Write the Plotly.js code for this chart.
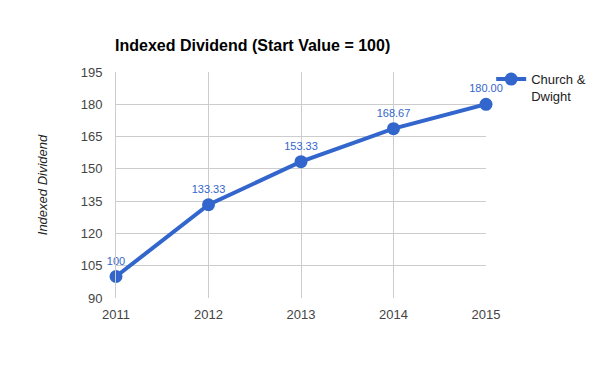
<!DOCTYPE html>
<html><head><meta charset="utf-8">
<script src="https://cdn.plot.ly/plotly-3.0.1.min.js"></script>
<style>html,body{margin:0;padding:0;background:#fff}#c{width:600px;height:371px}</style>
</head><body><div id="c"></div>
<script>
const years = ['2011','2012','2013','2014','2015'];
const values = [100, 133.33, 153.33, 168.67, 180.00];
const valueLabels = ['100','133.33','153.33','168.67','180.00'];
const seriesName = 'Church &<br>Dwight';
const yTicks = [90,105,120,135,150,165,180,195];

const trace = {
  x: years.map(Number), y: values, name: seriesName,
  type: 'scatter', mode: 'lines+markers+text',
  text: valueLabels, textposition: 'top center',
  textfont: {family: 'Liberation Sans, Arial', size: 11, color: '#3366cc'},
  line: {color: '#3366cc', width: 4},
  marker: {color: '#3366cc', size: 13},
  cliponaxis: false
};
const layout = {
  width: 600, height: 371,
  margin: {l: 116, r: 114, t: 72, b: 73, autoexpand: false},
  paper_bgcolor: '#fff', plot_bgcolor: '#fff',
  font: {family: 'Liberation Sans, Arial', size: 13, color: '#444'},
  title: {text: '<b>Indexed Dividend (Start Value = 100)</b>', x: 115/600, xanchor: 'left', y: 1 - 45/371, yanchor: 'middle',
    font: {family: 'Liberation Sans, Arial', size: 16, color: '#000'}},
  xaxis: {range: [2011, 2015], tickvals: years.map(Number), ticktext: years, showgrid: true, gridcolor: '#cccccc',
    zeroline: false, showline: false, ticks: 'outside', ticklen: 4, tickcolor: 'rgba(0,0,0,0)',
    tickfont: {size: 13, color: '#444'}},
  yaxis: {range: [90, 195], tickvals: yTicks, showgrid: true, gridcolor: '#cccccc', zeroline: false,
    showline: true, linecolor: '#cccccc', linewidth: 1, mirror: false,
    ticks: 'outside', ticklen: 10, tickcolor: 'rgba(0,0,0,0)', tickfont: {size: 13, color: '#444'},
    title: {text: '<i>Indexed Dividend</i>', standoff: 30, font: {size: 13, color: '#222'}}},
  showlegend: true,
  legend: {x: 1.014, xanchor: 'left', y: 1.035, yanchor: 'top', valign: 'top', font: {size: 13, color: '#222'}, bgcolor: 'rgba(0,0,0,0)'}
};
Plotly.newPlot('c', [trace], layout, {displayModeBar: false, staticPlot: true});
</script></body></html>
